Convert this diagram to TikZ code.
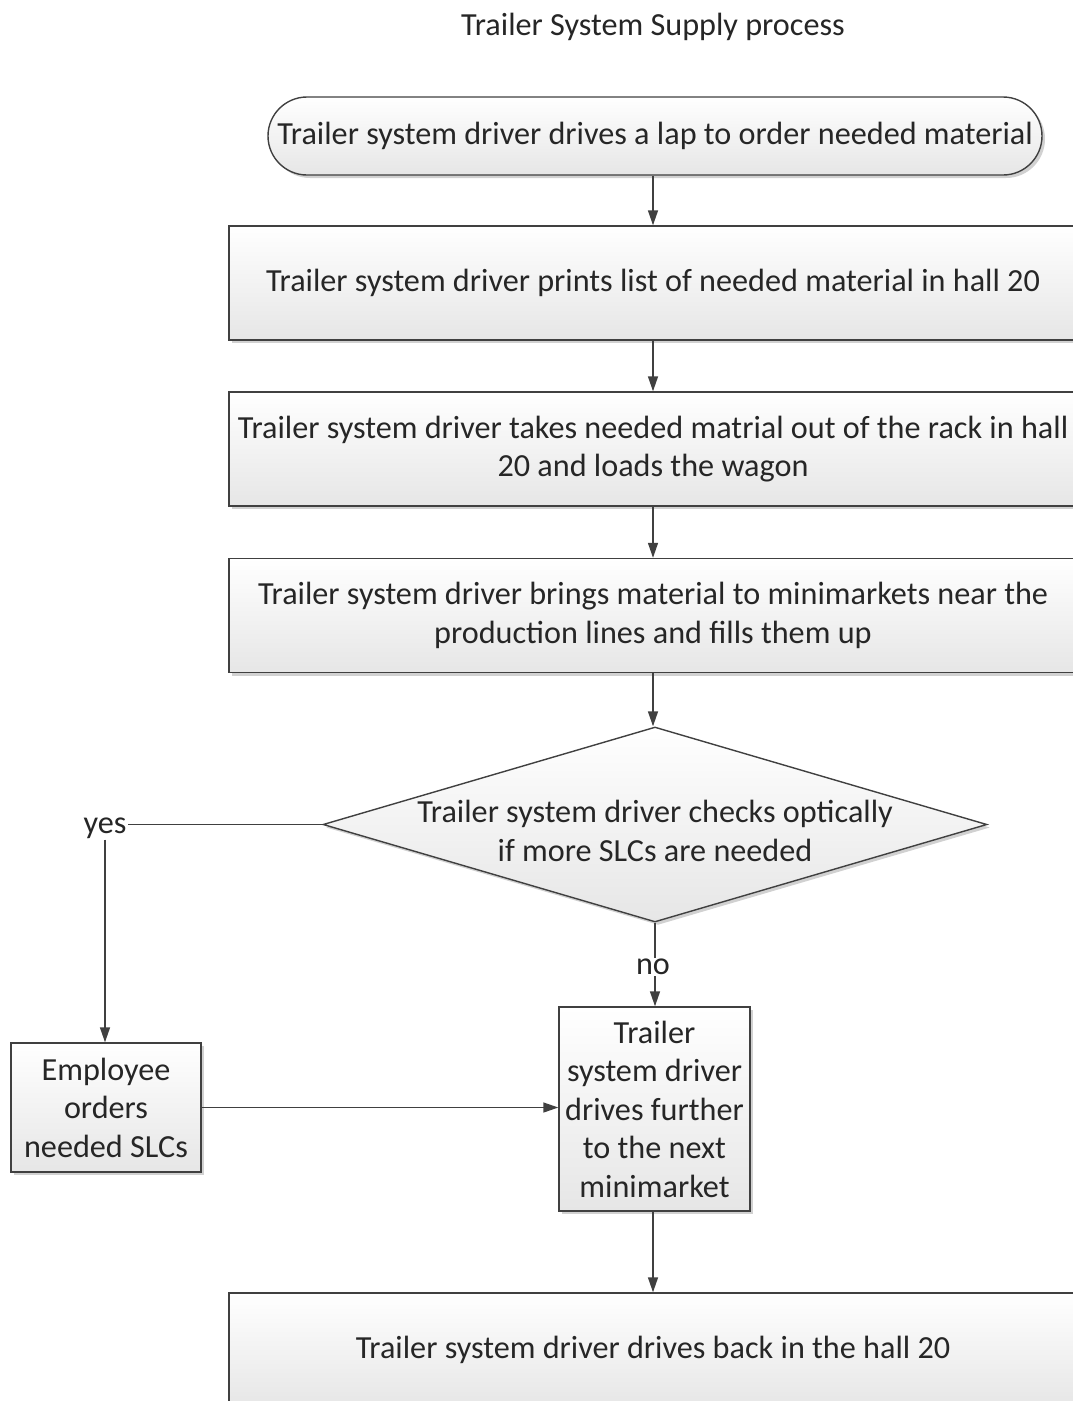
\documentclass[tikz,border=0pt]{standalone}
\usepackage{fontspec}
\setmainfont{Carlito}
\usetikzlibrary{shapes.geometric,shadows,arrows.meta}
\definecolor{lineC}{HTML}{404040}
\definecolor{txtC}{HTML}{262626}
\definecolor{botC}{HTML}{E6E6E6}
\tikzset{
  x=1pt, y=-1pt,
  every node/.style={font=\fontsize{32.2}{38.5}\selectfont, text=txtC},
  shaped/.style={draw=lineC, line width=1.4pt, top color=white, bottom color=botC,
    drop shadow={shadow xshift=3pt, shadow yshift=-3pt, fill=black, opacity=0.18},
    align=center, inner sep=0pt},
  procbox/.style={shaped, rectangle, minimum width=848pt, minimum height=114pt},
  conn/.style={draw=lineC, line width=1.4pt},
  arr/.style={conn, -{Triangle[length=15pt,width=10pt]}},
  lbl/.style={inner sep=1pt, fill=white}
}
\begin{document}
\begin{tikzpicture}
\useasboundingbox (0,0) rectangle (1073,1401);
\clip (0,0) rectangle (1073,1401);
\node (title) at (653,27) {Trailer System Supply process};
\node[shaped, rectangle, rounded corners=39pt, minimum width=774pt, minimum height=78pt] (t1) at (655,136) {Trailer system driver drives a lap to order needed material};
\node[procbox] (b2) at (653,283) {Trailer system driver prints list of needed material in hall 20};
\node[procbox] (b3) at (653,449) {Trailer system driver takes needed matrial out of the rack in hall\\20 and loads the wagon};
\node[procbox] (b4) at (653,615.5) {Trailer system driver brings material to minimarkets near the\\production lines and fills them up};
\node[shaped, diamond, minimum width=664pt, minimum height=195pt, aspect=3.4] (dec) at (655,824.5) {};
\node[align=center] (dect) at (655,831) {Trailer system driver checks optically\\if more SLCs are needed};
\node[lbl] (yes) at (105,828) {yes};
\node[lbl] (no) at (653,967) {no};
\node[shaped, rectangle, minimum width=190pt, minimum height=129pt] (emp) at (106,1107.5) {Employee\\orders\\needed SLCs};
\node[shaped, rectangle, minimum width=191pt, minimum height=204pt] (nxt) at (654.5,1109) {Trailer\\system driver\\drives further\\to the next\\minimarket};
\node[procbox] (b7) at (653,1350) {Trailer system driver drives back in the hall 20};
\draw[arr] (t1.south -| b2.north) -- (b2.north);
\draw[arr] (b2) -- (b3);
\draw[arr] (b3) -- (b4);
\draw[arr] (b4.south) -- (dec.north -| b4.south);
\draw[conn] (dec.west) -- (dec.west -| yes.east);
\draw[arr] (yes.south) -- (emp.north -| yes.south);
\draw[conn] (dec.south) -- (no.north -| dec.south);
\draw[arr] (no.south -| dec.south) -- (nxt.north -| dec.south);
\draw[arr] (emp.east) -- (nxt.west |- emp.east);
\draw[arr] (nxt.south -| b7.north) -- (b7.north);
\end{tikzpicture}
\end{document}
